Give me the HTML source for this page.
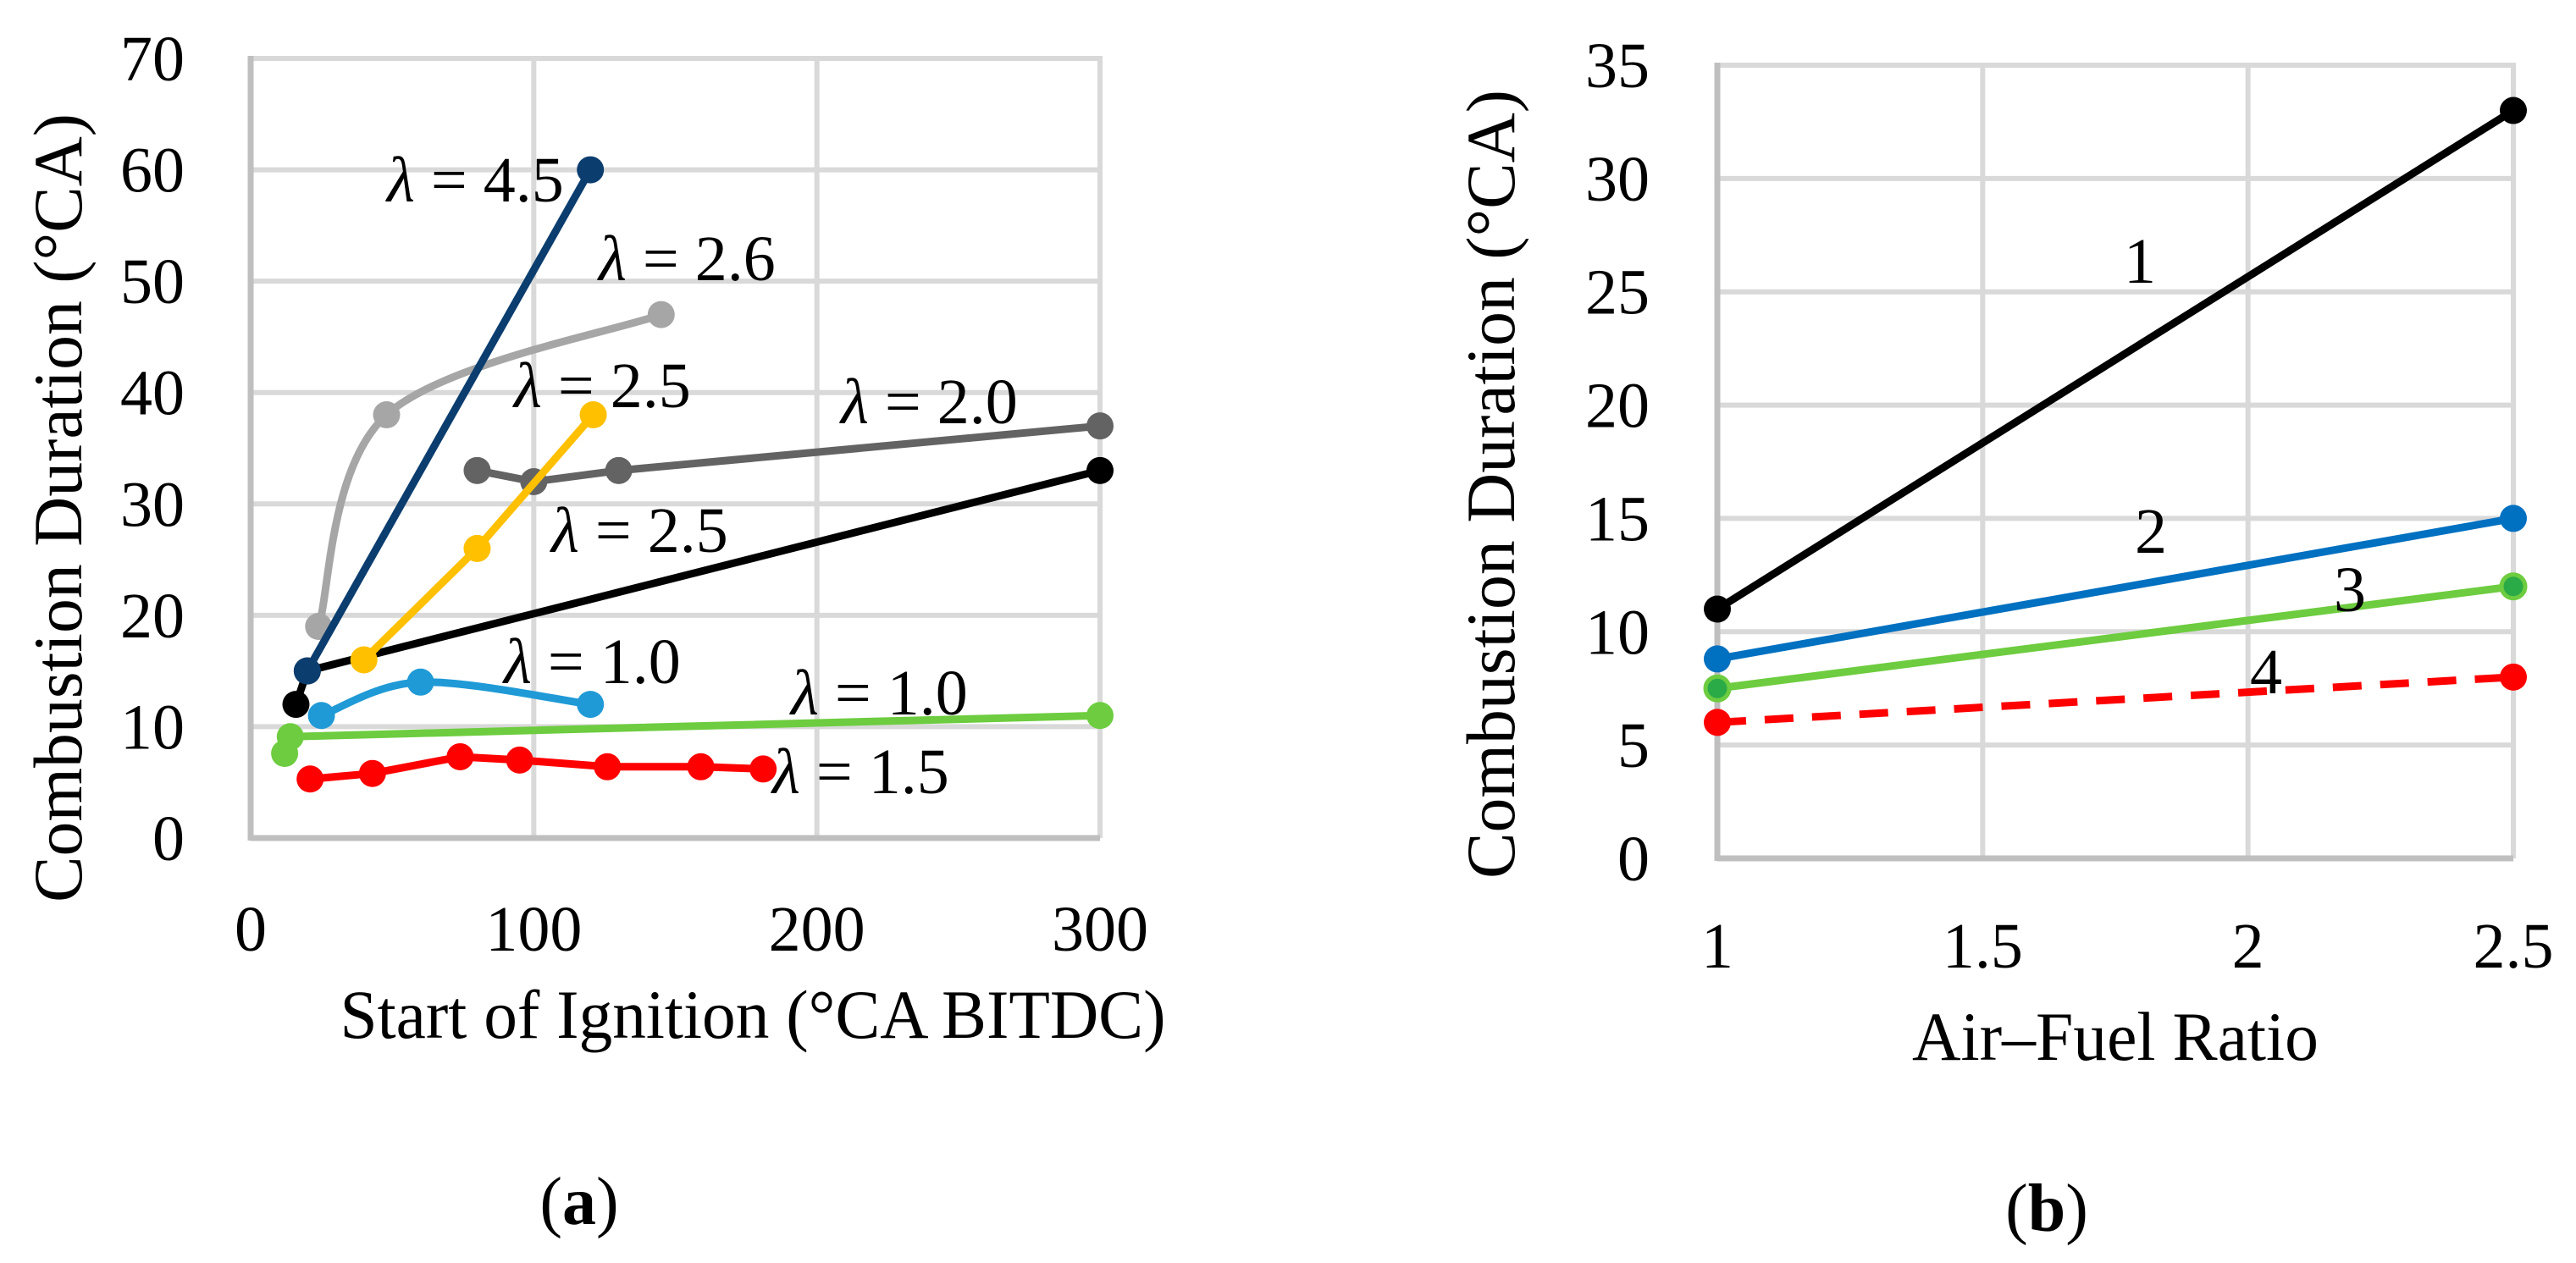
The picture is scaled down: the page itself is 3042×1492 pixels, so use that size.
<!DOCTYPE html>
<html><head><meta charset="utf-8"><style>
html,body{margin:0;padding:0;background:#fff;}
svg{display:block;font-family:"Liberation Serif",serif;}
</style></head><body>
<svg id="s" width="3042" height="1492" viewBox="0 0 3042 1492"></svg>
<script>
// ---- Chart (a) data ----
const aXTicks = [0, 100, 200, 300];
const aYTicks = [0, 10, 20, 30, 40, 50, 60, 70];
const aSeriesNames = ["lambda-4-5","lambda-2-6","lambda-2-5-yellow","lambda-2-0","lambda-2-5-black","lambda-1-0-blue","lambda-1-0-green","lambda-1-5"];
const aX_45 = [20, 120];            const aY_45 = [15, 60];
const aX_26 = [24, 48, 145];        const aY_26 = [19, 38, 47];
const aX_25y = [40, 80, 121];       const aY_25y = [16, 26, 38];
const aX_20 = [80, 100, 130, 300];  const aY_20 = [33, 32, 33, 37];
const aX_25k = [16, 20, 300];       const aY_25k = [12, 15, 33];
const aX_10b = [25, 60, 120];       const aY_10b = [11, 14, 12];
const aX_10g = [12, 14, 300];       const aY_10g = [7.6, 9.1, 11];
const aX_15 = [21, 43, 74, 95, 126, 159, 181];
const aY_15 = [5.3, 5.8, 7.3, 7, 6.4, 6.4, 6.2];
// ---- Chart (b) data ----
const bXTicks = [1, 1.5, 2, 2.5];
const bXTickLabels = ["1", "1.5", "2", "2.5"];
const bYTicks = [0, 5, 10, 15, 20, 25, 30, 35];
const bX = [1, 2.5];
const bY1 = [11, 33];
const bY2 = [8.8, 15];
const bY3 = [7.5, 12];
const bY4 = [6, 8];

const NS = "http://www.w3.org/2000/svg";
const svg = document.getElementById("s");
function mk(tag, attrs, parent) {
  const e = document.createElementNS(NS, tag);
  for (const k in attrs) e.setAttribute(k, attrs[k]);
  (parent || svg).appendChild(e);
  return e;
}
function txt(str, attrs, name) {
  const t = mk("text", attrs);
  t.textContent = str;
  
  
  return t;
}

const A = {l: 296, r: 1299, t: 69, b: 990, x0: 0, x1: 300, y0: 0, y1: 70};
const B = {l: 2028, r: 2968, t: 77, b: 1014, x0: 1, x1: 2.5, y0: 0, y1: 35};
function sx(C, v) { return C.l + (v - C.x0) / (C.x1 - C.x0) * (C.r - C.l); }
function sy(C, v) { return C.b - (v - C.y0) / (C.y1 - C.y0) * (C.b - C.t); }

function grid(C, xt, yt, pfx) {
  const g = mk("g", {});
  
  
  yt.forEach(v => { if (v !== C.y0) mk("line", {x1: C.l, x2: C.r + 3, y1: sy(C, v), y2: sy(C, v), stroke: "#d9d9d9", "stroke-width": 6}, g); });
  xt.forEach(v => { if (v !== C.x0) mk("line", {x1: sx(C, v), x2: sx(C, v), y1: C.t - 3, y2: C.b, stroke: "#d9d9d9", "stroke-width": 6}, g); });
  const ax = mk("line", {x1: C.l, x2: C.r, y1: C.b, y2: C.b, stroke: "#bfbfbf", "stroke-width": 7});
  
  
  const ay = mk("line", {x1: C.l, x2: C.l, y1: C.t - 3, y2: C.b + 3, stroke: "#bfbfbf", "stroke-width": 7});
  
  
}
grid(A, aXTicks, aYTicks, "chart-a");
grid(B, bXTicks, bYTicks, "chart-b");

aYTicks.forEach(v => txt(String(v), {x: 218, y: sy(A, v) + 26, "font-size": 76, "text-anchor": "end"}, "chart-a-y-tick-label"));
aXTicks.forEach(v => txt(String(v), {x: sx(A, v), y: 1123, "font-size": 76, "text-anchor": "middle"}, "chart-a-x-tick-label"));
bYTicks.forEach(v => txt(String(v), {x: 1948, y: sy(B, v) + 26, "font-size": 76, "text-anchor": "end"}, "chart-b-y-tick-label"));
bXTicks.forEach((v, i) => txt(bXTickLabels[i], {x: sx(B, v), y: 1143, "font-size": 76, "text-anchor": "middle"}, "chart-b-x-tick-label"));

txt("Combustion Duration (°CA)", {x: 0, y: 0, "font-size": 82, "text-anchor": "middle", transform: "translate(96,600) rotate(-90)", textLength: 932, lengthAdjust: "spacingAndGlyphs"}, "chart-a-y-axis-title");
txt("Start of Ignition (°CA BITDC)", {x: 889, y: 1226, "font-size": 82, "text-anchor": "middle", textLength: 975, lengthAdjust: "spacingAndGlyphs"}, "chart-a-x-axis-title");
txt("Combustion Duration (°CA)", {x: 0, y: 0, "font-size": 82, "text-anchor": "middle", transform: "translate(1788,572) rotate(-90)", textLength: 932, lengthAdjust: "spacingAndGlyphs"}, "chart-b-y-axis-title");
txt("Air–Fuel Ratio", {x: 2498, y: 1252, "font-size": 82, "text-anchor": "middle", textLength: 480, lengthAdjust: "spacingAndGlyphs"}, "chart-b-x-axis-title");

function panel(letter, x, y, name) {
  const t = mk("text", {x: x, y: y, "font-size": 80, "text-anchor": "middle"});
  
  
  const a = mk("tspan", {}, t); a.textContent = "(";
  const b = mk("tspan", {"font-weight": "bold"}, t); b.textContent = letter;
  const c = mk("tspan", {}, t); c.textContent = ")";
}
panel("a", 684, 1446, "panel-label-a");
panel("b", 2417, 1454, "panel-label-b");

function pathStr(C, xs, ys, smooth) {
  const p = xs.map((x, i) => [sx(C, x), sy(C, ys[i])]);
  if (!smooth || p.length < 3) return "M" + p.map(q => q[0] + "," + q[1]).join(" L");
  let d = "M" + p[0][0] + "," + p[0][1];
  for (let i = 0; i < p.length - 1; i++) {
    const p0 = p[i - 1] || p[i], p1 = p[i], p2 = p[i + 1], p3 = p[i + 2] || p2;
    const c1 = [p1[0] + (p2[0] - p0[0]) / 6, p1[1] + (p2[1] - p0[1]) / 6];
    const c2 = [p2[0] - (p3[0] - p1[0]) / 6, p2[1] - (p3[1] - p1[1]) / 6];
    d += " C" + c1[0] + "," + c1[1] + " " + c2[0] + "," + c2[1] + " " + p2[0] + "," + p2[1];
  }
  return d;
}
function series(C, xs, ys, color, name, opts) {
  opts = opts || {};
  const g = mk("g", {});
  
  
  const attrs = {d: pathStr(C, xs, ys, opts.smooth), fill: "none", stroke: opts.line || color, "stroke-width": 9, "stroke-linejoin": "round"};
  if (opts.dash) attrs["stroke-dasharray"] = opts.dash;
  mk("path", attrs, g);
  xs.forEach((x, i) => {
    const c = mk("circle", {cx: sx(C, x), cy: sy(C, ys[i]), r: 16, fill: color}, g);
    if (opts.edge) { c.setAttribute("stroke", opts.edge); c.setAttribute("stroke-width", 5); c.setAttribute("r", 14); }
  });
}
series(A, aX_26, aY_26, "#a6a6a6", "series-lambda-2-6", {smooth: true});
series(A, aX_20, aY_20, "#636363", "series-lambda-2-0");
series(A, aX_25k, aY_25k, "#000000", "series-lambda-2-5-black");
series(A, aX_45, aY_45, "#0b3d6f", "series-lambda-4-5");
series(A, aX_25y, aY_25y, "#ffc000", "series-lambda-2-5-yellow");
series(A, aX_10b, aY_10b, "#1f9ad6", "series-lambda-1-0-blue", {smooth: true});
series(A, aX_10g, aY_10g, "#6dcc3f", "series-lambda-1-0-green");
series(A, aX_15, aY_15, "#ff0000", "series-lambda-1-5");

series(B, bX, bY4, "#ff0000", "series-4", {dash: "34,22"});
series(B, bX, bY3, "#2aab47", "series-3", {line: "#6dcc3f", edge: "#6dcc3f"});
series(B, bX, bY2, "#0070c0", "series-2");
series(B, bX, bY1, "#000000", "series-1");

function lam(str, x, y, name) {
  const t = mk("text", {x: x, y: y, "font-size": 76});
  
  
  const a = mk("tspan", {"font-style": "italic"}, t); a.textContent = "λ";
  const b = mk("tspan", {}, t); b.textContent = " = " + str;
}
lam("4.5", 457, 238, "label-lambda-4-5");
lam("2.6", 707, 331, "label-lambda-2-6");
lam("2.5", 607, 481, "label-lambda-2-5-upper");
lam("2.0", 993, 500, "label-lambda-2-0");
lam("2.5", 651, 652, "label-lambda-2-5-lower");
lam("1.0", 595, 807, "label-lambda-1-0-upper");
lam("1.0", 934, 844, "label-lambda-1-0-lower");
lam("1.5", 912, 937, "label-lambda-1-5");
txt("1", {x: 2527, y: 334, "font-size": 76, "text-anchor": "middle"}, "label-series-1");
txt("2", {x: 2540, y: 653, "font-size": 76, "text-anchor": "middle"}, "label-series-2");
txt("3", {x: 2775, y: 722, "font-size": 76, "text-anchor": "middle"}, "label-series-3");
txt("4", {x: 2676, y: 819, "font-size": 76, "text-anchor": "middle"}, "label-series-4");
</script>
</body></html>
